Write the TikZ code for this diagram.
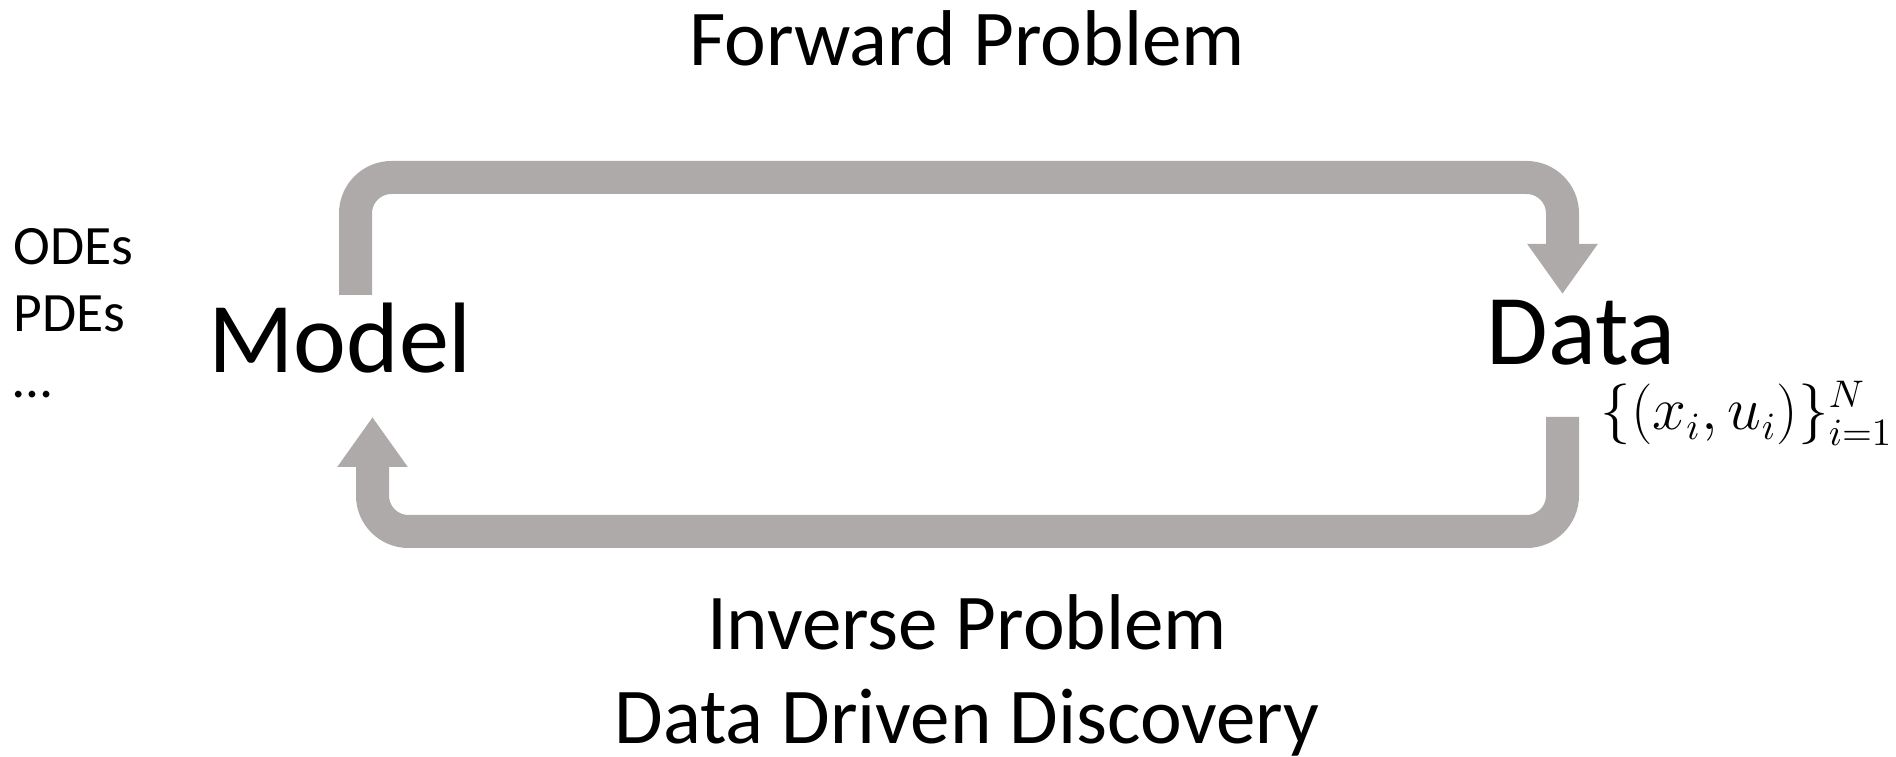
\documentclass[tikz,border=0pt]{standalone}
\usepackage{fontspec}
\setmainfont{Carlito}
\usepackage{xcolor}
\usetikzlibrary{arrows.meta}

\definecolor{flowgray}{RGB}{174,170,170}

\begin{document}
\begin{tikzpicture}[
  flow/.style={line width=0.33cm, flowgray, rounded corners=0.36cm,
    -{Triangle[width=0.67cm, length=0.5cm]}},
  txt/.style={inner sep=0pt},
  big/.style={txt, font=\fontsize{28.5}{34}\selectfont},
  caption/.style={txt, font=\fontsize{22.5}{27}\selectfont},
  small/.style={txt, font=\fontsize{15.8}{19}\selectfont}
]
  \useasboundingbox (0,0) rectangle (18.96,7.56);

  % the two ends of the loop
  \node[big, anchor=base] (model) at (3.40,3.83) {Model};
  \node[big, anchor=base] (data) at (15.81,3.91) {Data};

  % kinds of model
  \node[small, anchor=base west] (odes) at (0.13,4.91) {ODEs};
  \node[small, anchor=base west] (pdes) at (0.13,4.24) {PDEs};
  \node[small, anchor=base west] (more) at (0.13,3.58) {…};

  % the data set
  \node[txt, font=\fontsize{16}{19}\selectfont, anchor=base west] (pairs)
    at (16.00,3.26) {$\{(x_i,u_i)\}_{i=1}^N$};

  % arrow ends beside the two words
  \coordinate (model-out) at (3.555,4.61);
  \coordinate (data-in) at (15.625,4.62);
  \coordinate (data-out) at (15.625,3.39);
  \coordinate (model-in) at (3.725,3.39);

  % forward: model to data, over the top
  \draw[flow] (model-out) -- (3.555,5.785) -- (15.625,5.785) -- (data-in);
  \node[caption, anchor=base] (fwd) at (9.67,6.90) {Forward Problem};

  % inverse: data back to model, underneath
  \draw[flow] (data-out) -- (15.625,2.245) -- (3.725,2.245) -- (model-in);
  \node[caption, anchor=base] (inv) at (9.67,1.06) {Inverse Problem};
  \node[caption, anchor=base] (ddd) at (9.67,0.13) {Data Driven Discovery};
\end{tikzpicture}
\end{document}
